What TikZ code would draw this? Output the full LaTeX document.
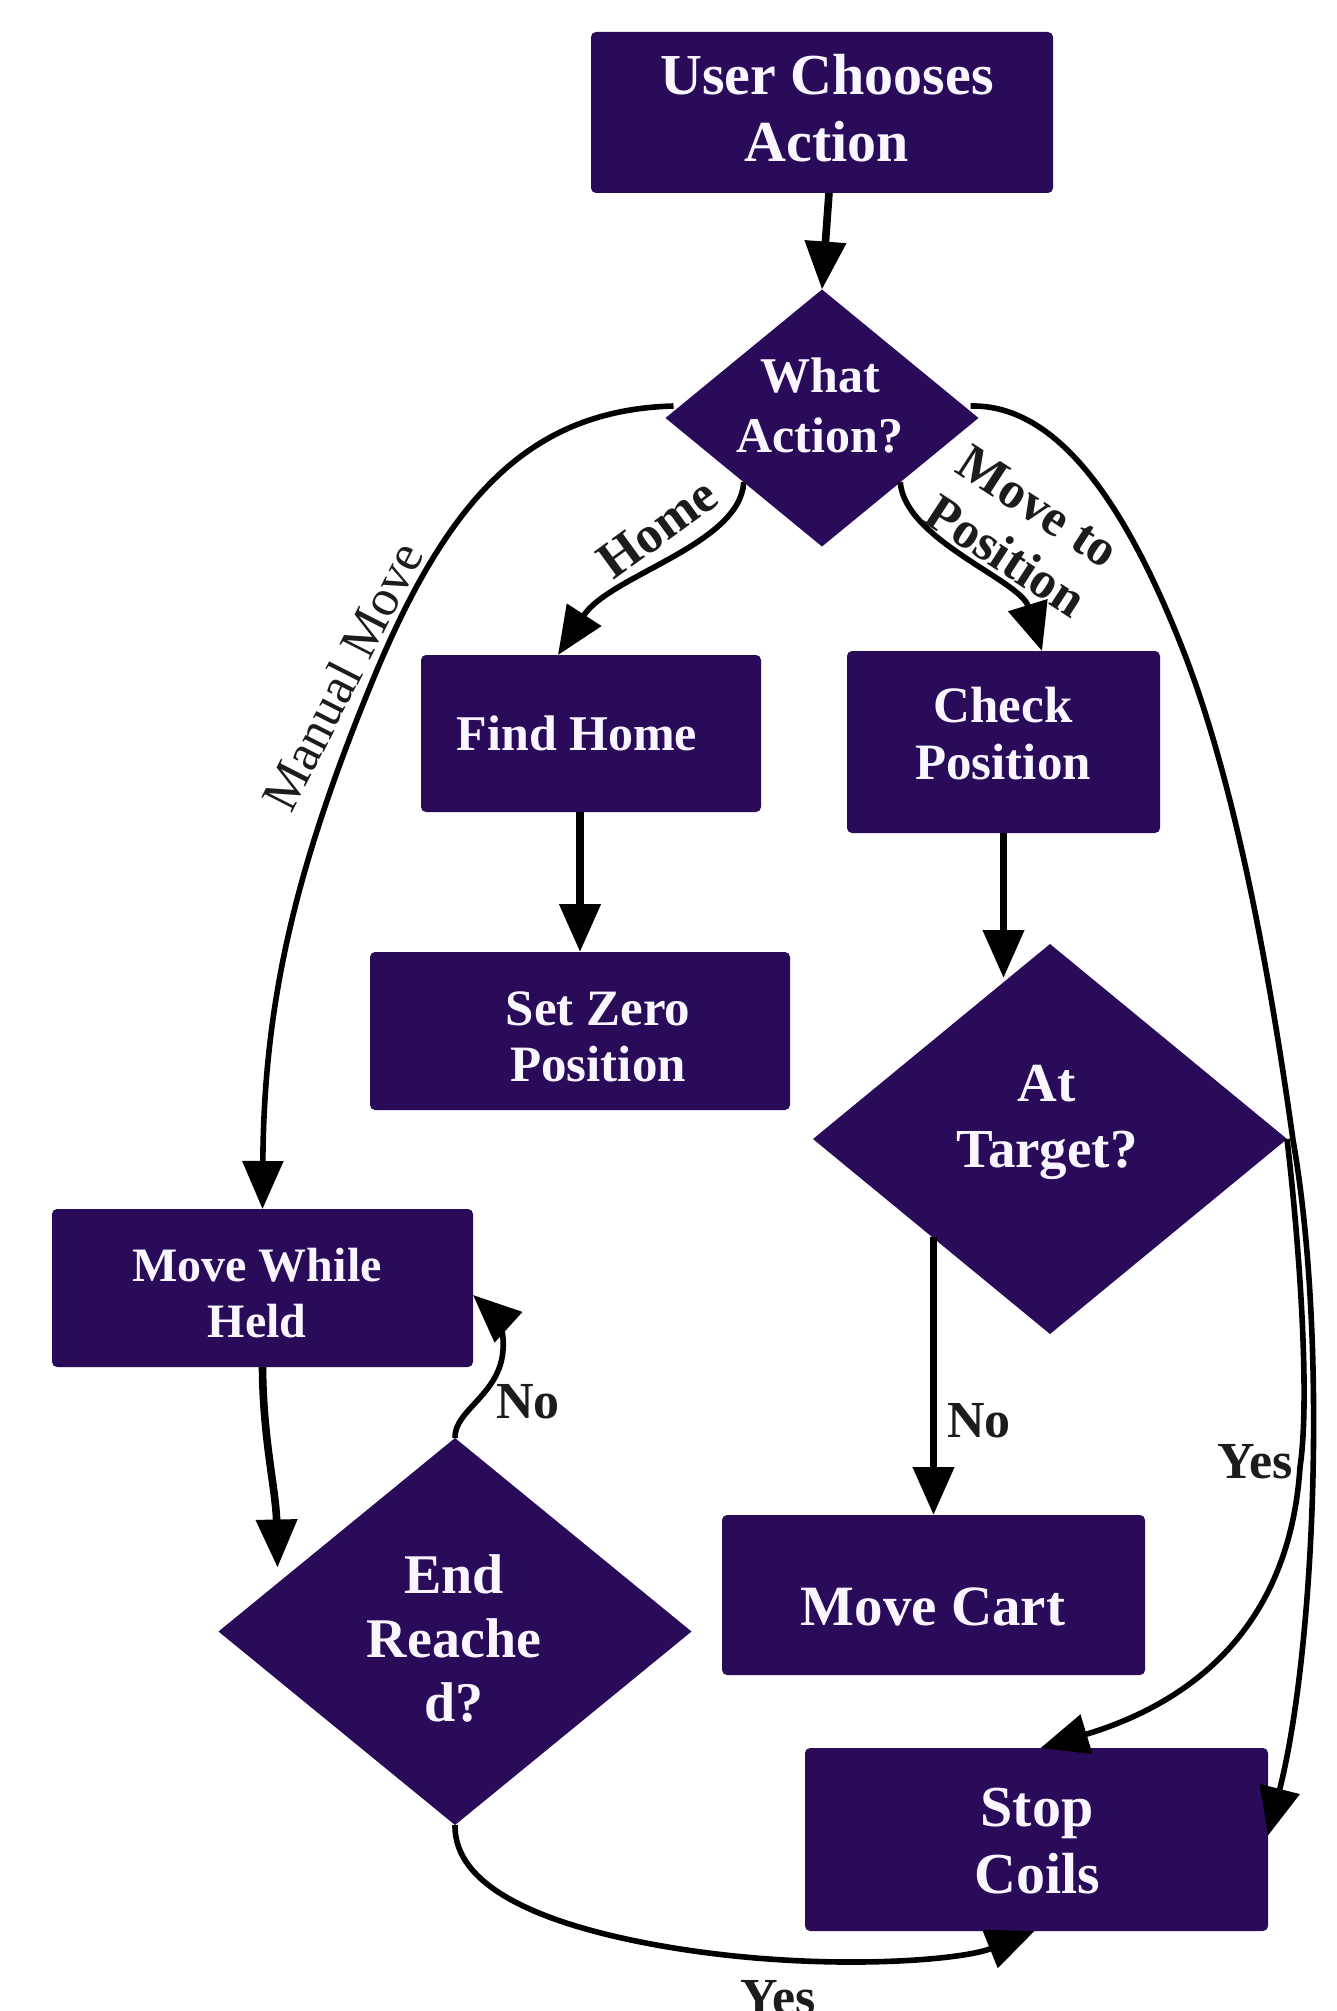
\documentclass[tikz,border=0pt]{standalone}
\usepackage{fontspec}
\setmainfont{Liberation Serif}
\usetikzlibrary{arrows.meta,shapes.geometric}
\definecolor{boxcol}{RGB}{42,11,90}
\definecolor{txtcol}{RGB}{250,246,255}
\definecolor{lblcol}{RGB}{28,28,28}
\begin{document}
\begin{tikzpicture}[x=0.5pt,y=-0.5pt,
  box/.style={draw=none,fill=boxcol,rounded corners=2.5pt,inner sep=0pt,outer sep=0pt},
  dia/.style={diamond,draw=none,fill=boxcol,inner sep=0pt,outer sep=0pt},
  btxt/.style 2 args={text=txtcol,align=center,inner sep=0pt,text depth=0pt,font=\bfseries\fontsize{#1}{#2}\selectfont},
  lbl/.style={text=lblcol,align=center,inner sep=0pt,text depth=0pt,font=\bfseries\fontsize{26}{28}\selectfont},
  arr/.style={line width=2.8pt,-{Triangle[width=20pt,length=24pt]}},
  sarr/.style={line width=3.8pt,-{Triangle[width=20pt,length=24pt]}}
]
\useasboundingbox (0,0) rectangle (1337,2011);
\fill[white] (0,0) rectangle (1337,2011);

% boxes
\node[box,minimum width=231pt,minimum height=80.5pt] (uca) at (822,112.5) {};
\node[box,minimum width=170pt,minimum height=78.5pt] (fh) at (591,733.5) {};
\node[box,minimum width=156.5pt,minimum height=91pt] (cp) at (1003.5,742) {};
\node[box,minimum width=210pt,minimum height=79pt] (sz) at (580,1031) {};
\node[box,minimum width=210.5pt,minimum height=79pt] (mwh) at (262.5,1288) {};
\node[box,minimum width=211.5pt,minimum height=80pt] (mc) at (933.5,1595) {};
\node[box,minimum width=231.5pt,minimum height=91.5pt] (sc) at (1036.5,1839.5) {};

% diamonds
\node[dia,minimum width=156.5pt,minimum height=128.5pt,shape aspect=1.218] (wa) at (822,418) {};
\node[dia,minimum width=237pt,minimum height=195pt,shape aspect=1.215] (at) at (1050,1139) {};
\node[dia,minimum width=236.5pt,minimum height=193.5pt,shape aspect=1.222] (er) at (455,1631.5) {};

% texts
\node[btxt={29}{33.5}] (ucat) at (827,107.5) {User Chooses\\Action};
\node[btxt={25}{30}] (wat) at (820,405.5) {What\\Action?};
\node[btxt={25}{28}] (fht) at (577,733.5) {Find Home};
\node[btxt={25.5}{28.5}] (cpt) at (1003,733.5) {Check\\Position};
\node[btxt={25.5}{28}] (szt) at (598,1037) {Set Zero\\Position};
\node[btxt={27.5}{33}] (att) at (1047,1116) {At\\Target?};
\node[btxt={24}{28}] (mwht) at (257,1293) {Move While\\Held};
\node[btxt={28}{32}] (ert) at (454,1638.5) {End\\Reache\\d?};
\node[btxt={28.5}{32}] (mct) at (933,1607) {Move Cart};
\node[btxt={29}{33.5}] (sct) at (1037,1840.5) {Stop\\Coils};

% connectors
\draw[sarr] ([xshift=3.5pt]uca.south) -- (wa.north);
\draw[arr] (wa.south west) .. controls (740,545) and (610,575) .. ([xshift=-16.5pt]fh.north);
\draw[arr] (wa.south east) .. controls (905,540) and (1020,580) .. ([xshift=19.25pt]cp.north);
\draw[arr] ([xshift=4pt,yshift=6pt]wa.west) .. controls (530,410) and (448,497) .. (372,682)
  .. controls (296,867) and (264,1000) .. (mwh.north);
\draw[arr] ([xshift=-4pt,yshift=6pt]wa.east) .. controls (1060,404) and (1128,510) .. (1183,650)
  .. controls (1238,790) and (1272,990) .. (1293,1140)
  .. controls (1328,1340) and (1315,1650) .. ([yshift=2pt]sc.east);
\draw[sarr] (fh.south -| sz.north) -- (sz.north);
\draw[sarr] (cp.south) -- ([xshift=-23.25pt,yshift=-17pt]at.north);
\draw[sarr] (at.south west -| mc.north) -- (mc.north);
\draw[arr] (at.east) .. controls (1300,1250) and (1310,1400) .. (1300,1467)
  .. controls (1290,1620) and (1200,1700) .. ([xshift=2pt]sc.north);
\draw[sarr] (mwh.south) .. controls (263,1440) and (276,1490) .. ([xshift=29.5pt,yshift=32pt]er.west);
\draw[arr] (er.north) .. controls (454,1410) and (500,1395) .. (503,1350)
  .. controls (505,1330) and (495,1315) .. ([yshift=-3.5pt]mwh.east);
\draw[arr] (er.south) .. controls (454,1890) and (550,1927) .. (668,1947)
  .. controls (816,1972) and (960,1961) .. ([xshift=-1pt]sc.south);

% labels
\node[lbl,rotate=36] (lhome) at (657,528) {Home};
\node[lbl,font=\bfseries\fontsize{26}{29.5}\selectfont,rotate=-33] (lmove) at (1022,531) {Move to\\Position};
\node[lbl,font=\fontsize{26}{28}\selectfont,rotate=63] (lman) at (342,676) {Manual Move};
\node[lbl] (lno1) at (528,1401) {No};
\node[lbl] (lno2) at (979,1420) {No};
\node[lbl] (lyes1) at (1255,1461) {Yes};
\node[lbl] (lyes2) at (778,1997) {Yes};
\end{tikzpicture}
\end{document}
